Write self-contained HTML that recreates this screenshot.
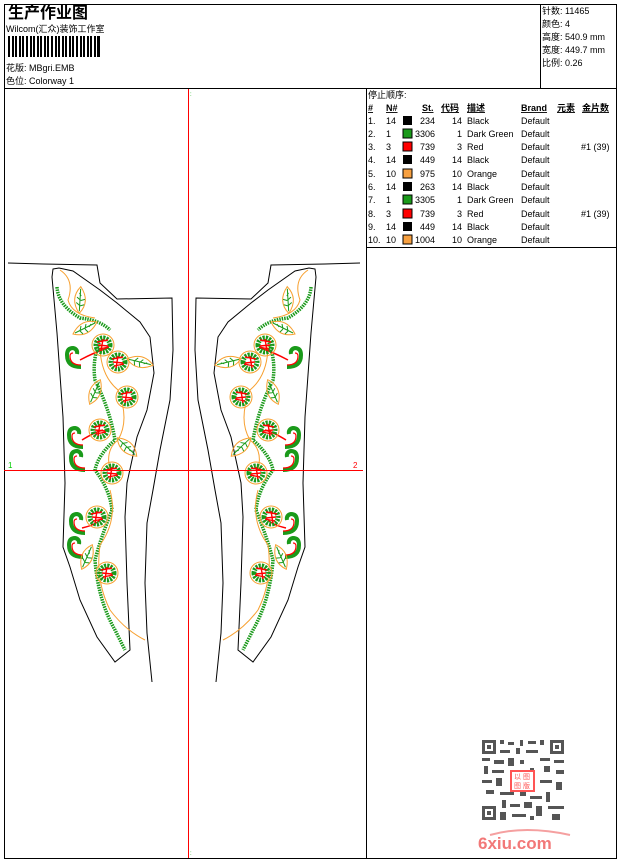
<!DOCTYPE html>
<html><head><meta charset="utf-8"><style>
body{margin:0;background:#fff;}
svg{display:block;}
text{font-family:"Liberation Sans","Noto Sans CJK SC",sans-serif;font-size:9px;fill:#000;}
.b{font-weight:bold;}
</style></head><body>
<svg width="620" height="860" viewBox="0 0 620 860" xmlns="http://www.w3.org/2000/svg">
<defs>
<g id="flower">
<circle r="11" fill="none" stroke="#f7a030" stroke-width="1"/>
<circle r="7" fill="none" stroke="#1a9a1a" stroke-width="5" stroke-dasharray="2 1"/>
<path d="M-6,-3 L5,-5 M-4,4 L6,2 M0,-6 L-2,6 M-5,0 L5,1" stroke="#f00" stroke-width="1.4" fill="none"/>
</g>
<g id="leaf">
<path d="M-12,6 Q-4,-10 12,-6 Q4,10 -12,6Z" fill="none" stroke="#f7a030"/>
<path d="M-10,5 L10,-5 M-5,3 L-4,-2 M0,1 L1,-4 M4,-1 L6,-4 M-5,3 L-2,6 M0,1 L3,4" stroke="#1a9a1a" fill="none"/>
</g>
<g id="curl">
<path d="M8,10 Q-6,10 -6,-2 Q-6,-9 0,-9 Q5,-8 4,-3" fill="none" stroke="#1a9a1a" stroke-width="4"/>
<path d="M8,8 Q-3,8 -3,-1 Q-3,-4 0,-4" fill="none" stroke="#f00" stroke-width="1.2"/>
</g>
<g id="design">
<path d="M57,287 Q58,305 80,318 Q100,320 110,330 M100,340 Q92,360 95,380 Q110,410 115,440 Q98,455 95,470 Q110,490 112,510 Q100,540 95,560 Q98,600 115,630 L125,650" fill="none" stroke="#1a9a1a" stroke-width="3.5" stroke-dasharray="1.5 1"/>
<path d="M60,270 Q75,280 68,300 Q72,315 95,318 M100,345 Q100,375 118,390 Q130,420 118,440 Q105,450 110,470 M110,490 Q118,520 100,545 Q95,580 110,610 Q125,630 145,640" fill="none" stroke="#f7a030" stroke-width="1"/>
<path d="M80,360 Q95,352 108,348 M82,440 Q95,432 103,430 M82,528 Q95,525 100,520" fill="none" stroke="#f00" stroke-width="1.5"/>
<use href="#flower" x="103" y="345"/><use href="#flower" x="118" y="362"/><use href="#flower" x="127" y="397"/>
<use href="#flower" x="100" y="430"/><use href="#flower" x="112" y="473"/><use href="#flower" x="97" y="517"/><use href="#flower" x="107" y="573"/>
<use href="#curl" x="73" y="357"/><use href="#curl" x="75" y="437"/><use href="#curl" x="77" y="460"/><use href="#curl" x="77" y="523"/><use href="#curl" x="75" y="547"/>
<use href="#leaf" x="80" y="300" transform="rotate(-60 80 300)"/><use href="#leaf" x="85" y="328"/><use href="#leaf" x="140" y="362" transform="rotate(40 140 362)"/>
<use href="#leaf" x="95" y="392" transform="rotate(-40 95 392)"/><use href="#leaf" x="127" y="447" transform="rotate(70 127 447)"/><use href="#leaf" x="87" y="557" transform="rotate(-40 87 557)"/>
</g>
<g id="piece">
<path d="M53,269 L59,268 L73,271 L100,290 L117,303 L140,322 L150,337 L154,373 L147,410 L137,437 L127,483 L125,517 L127,583 L130,650 L115,662 L97,637 L80,600 L70,567 L63,547 L65,483 L63,417 L57,333 L52,277Z" fill="none" stroke="#000" stroke-width="1"/>
<path d="M8,263 L43,264 L97,265 L100,283 L117,299 L172,298 L173,350 L170,400 L160,450 L153,490 L147,523 L145,583 L147,633 L152,682" fill="none" stroke="#000" stroke-width="1"/>
</g>
</defs>
<rect x="4.5" y="4.5" width="612" height="854" fill="none" stroke="#000"/>
<line x1="4" y1="88.5" x2="617" y2="88.5" stroke="#000"/>
<line x1="540.5" y1="4" x2="540.5" y2="88" stroke="#000"/>
<line x1="366.5" y1="88" x2="366.5" y2="858" stroke="#000"/>
<line x1="366" y1="247.5" x2="617" y2="247.5" stroke="#000"/>

<text x="8" y="18" class="b" style="font-size:16px">生产作业图</text>
<text x="6" y="32">Wilcom(汇众)装饰工作室</text>
<g fill="#000">
<rect x="8" y="36" width="2" height="21"/><rect x="12" y="36" width="2" height="21"/><rect x="15" y="36" width="2" height="21"/><rect x="19" y="36" width="2" height="21"/><rect x="22" y="36" width="2" height="21"/><rect x="26" y="36" width="2" height="21"/><rect x="30" y="36" width="2" height="21"/><rect x="33" y="36" width="2" height="21"/><rect x="37" y="36" width="2" height="21"/><rect x="40" y="36" width="2" height="21"/><rect x="44" y="36" width="2" height="21"/><rect x="47" y="36" width="2" height="21"/><rect x="51" y="36" width="2" height="21"/><rect x="55" y="36" width="2" height="21"/><rect x="58" y="36" width="2" height="21"/><rect x="62" y="36" width="2" height="21"/><rect x="65" y="36" width="2" height="21"/><rect x="69" y="36" width="2" height="21"/><rect x="72" y="36" width="2" height="21"/><rect x="76" y="36" width="2" height="21"/><rect x="80" y="36" width="2" height="21"/><rect x="83" y="36" width="2" height="21"/><rect x="87" y="36" width="2" height="21"/><rect x="90" y="36" width="2" height="21"/><rect x="94" y="36" width="2" height="21"/><rect x="97" y="36" width="3" height="21"/>
</g>
<text x="6" y="71">花版:  MBgri.EMB</text>
<text x="6" y="84">色位:  Colorway 1</text>
<text x="542" y="14">针数: 11465</text>
<text x="542" y="27">颜色: 4</text>
<text x="542" y="40">高度: 540.9 mm</text>
<text x="542" y="53">宽度: 449.7 mm</text>
<text x="542" y="66">比例: 0.26</text>

<text x="368" y="98">停止顺序:</text>
<g class="b" text-decoration="underline">
<text x="368" y="111" class="b">#</text><text x="386" y="111" class="b">N#</text><text x="422" y="111" class="b">St.</text><text x="441" y="111" class="b">代码</text><text x="467" y="111" class="b">描述</text><text x="521" y="111" class="b">Brand</text><text x="557" y="111" class="b">元素</text><text x="582" y="111" class="b">金片数</text>
</g>
<g>
<g transform="translate(0,124)"><text x="368">1.</text><text x="386">14</text><rect x="403" y="-8" width="9" height="9" fill="#000"/><text x="435" text-anchor="end">234</text><text x="462" text-anchor="end">14</text><text x="467">Black</text><text x="521">Default</text></g>
<g transform="translate(0,137)"><text x="368">2.</text><text x="386">1</text><rect x="403" y="-8" width="9" height="9" fill="#1a9a1a" stroke="#000"/><text x="435" text-anchor="end">3306</text><text x="462" text-anchor="end">1</text><text x="467">Dark Green</text><text x="521">Default</text></g>
<g transform="translate(0,150)"><text x="368">3.</text><text x="386">3</text><rect x="403" y="-8" width="9" height="9" fill="#f00" stroke="#000"/><text x="435" text-anchor="end">739</text><text x="462" text-anchor="end">3</text><text x="467">Red</text><text x="521">Default</text><text x="581">#1 (39)</text></g>
<g transform="translate(0,163)"><text x="368">4.</text><text x="386">14</text><rect x="403" y="-8" width="9" height="9" fill="#000"/><text x="435" text-anchor="end">449</text><text x="462" text-anchor="end">14</text><text x="467">Black</text><text x="521">Default</text></g>
<g transform="translate(0,177)"><text x="368">5.</text><text x="386">10</text><rect x="403" y="-8" width="9" height="9" fill="#f7a040" stroke="#000"/><text x="435" text-anchor="end">975</text><text x="462" text-anchor="end">10</text><text x="467">Orange</text><text x="521">Default</text></g>
<g transform="translate(0,190)"><text x="368">6.</text><text x="386">14</text><rect x="403" y="-8" width="9" height="9" fill="#000"/><text x="435" text-anchor="end">263</text><text x="462" text-anchor="end">14</text><text x="467">Black</text><text x="521">Default</text></g>
<g transform="translate(0,203)"><text x="368">7.</text><text x="386">1</text><rect x="403" y="-8" width="9" height="9" fill="#1a9a1a" stroke="#000"/><text x="435" text-anchor="end">3305</text><text x="462" text-anchor="end">1</text><text x="467">Dark Green</text><text x="521">Default</text></g>
<g transform="translate(0,217)"><text x="368">8.</text><text x="386">3</text><rect x="403" y="-8" width="9" height="9" fill="#f00" stroke="#000"/><text x="435" text-anchor="end">739</text><text x="462" text-anchor="end">3</text><text x="467">Red</text><text x="521">Default</text><text x="581">#1 (39)</text></g>
<g transform="translate(0,230)"><text x="368">9.</text><text x="386">14</text><rect x="403" y="-8" width="9" height="9" fill="#000"/><text x="435" text-anchor="end">449</text><text x="462" text-anchor="end">14</text><text x="467">Black</text><text x="521">Default</text></g>
<g transform="translate(0,243)"><text x="368">10.</text><text x="386">10</text><rect x="403" y="-8" width="9" height="9" fill="#f7a040" stroke="#000"/><text x="435" text-anchor="end">1004</text><text x="462" text-anchor="end">10</text><text x="467">Orange</text><text x="521">Default</text></g>
</g>

<use href="#piece"/><use href="#design"/>
<g transform="translate(368,0) scale(-1,1)"><use href="#piece"/><use href="#design"/></g>

<line x1="188.5" y1="89" x2="188.5" y2="858" stroke="#f00"/>
<line x1="4" y1="470.5" x2="363" y2="470.5" stroke="#f00"/>
<text x="8" y="468" style="fill:#0c0;font-size:8px">1</text>
<text x="353" y="468" style="fill:#f00;font-size:8px">2</text>
<text x="190" y="96" style="fill:#0a0;font-size:6px">:</text>
<text x="190" y="855" style="fill:#0a0;font-size:6px">:</text>

<g fill="#555">
<rect x="481" y="739" width="84" height="82" fill="#fff"/>
<rect x="482" y="740" width="14" height="14"/><rect x="485" y="743" width="8" height="8" fill="#fff"/><rect x="487" y="745" width="4" height="4"/>
<rect x="550" y="740" width="14" height="14"/><rect x="553" y="743" width="8" height="8" fill="#fff"/><rect x="555" y="745" width="4" height="4"/>
<rect x="482" y="806" width="14" height="14"/><rect x="485" y="809" width="8" height="8" fill="#fff"/><rect x="487" y="811" width="4" height="4"/>
<path d="M500,740h4v4h-4zM508,742h6v3h-6zM520,740h3v6h-3zM528,741h8v3h-8zM540,740h4v5h-4zM500,750h10v3h-10zM516,748h4v6h-4zM526,750h12v3h-12zM482,758h8v3h-8zM494,760h10v4h-10zM508,758h6v8h-6zM520,760h4v4h-4zM540,758h10v3h-10zM554,760h10v3h-10zM484,766h4v8h-4zM492,770h12v3h-12zM530,768h4v10h-4zM544,766h6v6h-6zM556,770h8v4h-8zM482,780h10v3h-10zM496,778h6v8h-6zM540,780h12v3h-12zM556,782h6v8h-6zM486,790h8v4h-8zM500,792h14v3h-14zM520,790h6v6h-6zM530,796h12v3h-12zM546,792h4v10h-4zM502,800h4v8h-4zM510,804h10v3h-10zM524,802h8v6h-8zM536,806h6v10h-6zM548,806h16v3h-16zM500,812h6v8h-6zM512,814h14v3h-14zM530,816h4v4h-4zM552,814h8v6h-8z"/>
</g>
<rect x="511" y="771" width="23" height="20" fill="#fff" stroke="#f55" stroke-width="2"/>
<text x="514" y="779" style="fill:#f55;font-size:7px">以 图</text><text x="514" y="788" style="fill:#f55;font-size:7px">图 版</text>
<path d="M490,835 Q525,825 570,835" fill="none" stroke="#f5a0a0" stroke-width="2"/>
<text x="478" y="849" class="b" style="fill:#f27878;font-size:17px">6xiu.com</text>
</svg>
</body></html>
